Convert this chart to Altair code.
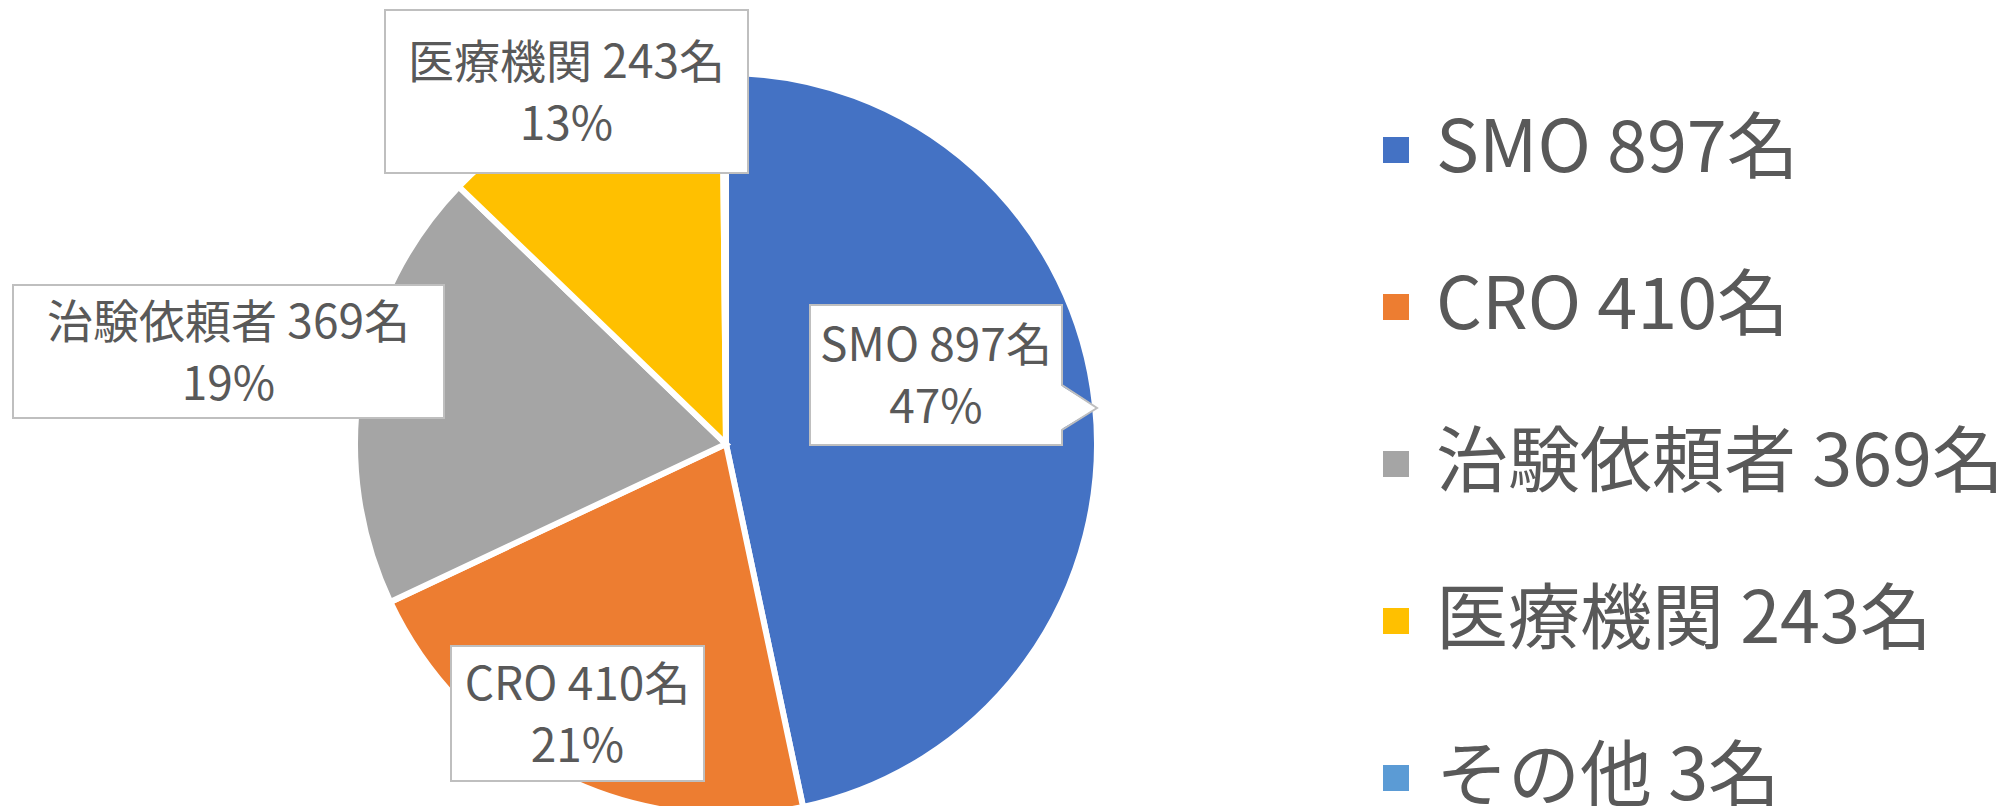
import altair as alt
import pandas as pd

# ---- data ----
categories = ["SMO", "CRO", "治験依頼者", "医療機関", "その他"]
counts = [897, 410, 369, 243, 3]
colors = ["#4472C4", "#ED7D31", "#A5A5A5", "#FFC000", "#5B9BD5"]

total = sum(counts)
legend_labels = [f"{c} {n}名" for c, n in zip(categories, counts)]
pct_labels = [f"{round(n / total * 100)}%" for n in counts]

pie_df = pd.DataFrame({
    "label": legend_labels,
    "count": counts,
    "ord": list(range(len(counts))),
})

# ---- layout (pixel positions of the annotation boxes) ----
CX, CY, R = 718, 436, 371
LINE_H = 62
boxes = {  # category index: (x0, x1, y0, y1)
    0: (802, 1054, 297, 437),
    1: (443, 696, 638, 773),
    2: (5, 436, 277, 410),
    3: (377, 740, 2, 165),
}
box_rows = []
for i, (x0, x1, y0, y1) in boxes.items():
    box_rows.append({
        "x0": x0, "x1": x1, "y0": y0, "y1": y1,
        "tx": (x0 + x1) / 2, "ty": (y0 + y1) / 2 - 28,
        "text": [legend_labels[i], pct_labels[i]],
    })
box_df = pd.DataFrame(box_rows)

# callout pointer of the SMO label
ptr_area = pd.DataFrame({"x": [1052, 1089], "y": [377, 400], "y2": [422, 400]})
ptr_line = pd.DataFrame({"x": [1054, 1089, 1054], "y": [377, 400, 422], "o": [0, 1, 2]})

FONT = "Noto Sans CJK JP"
TXT = "#595959"

pie = alt.Chart(pie_df).mark_arc(radius=R, stroke="white", strokeWidth=6).encode(
    theta=alt.Theta("count:Q", stack=True),
    order=alt.Order("ord:Q"),
    x=alt.value(CX),
    y=alt.value(CY),
    color=alt.Color(
        "label:N",
        sort=legend_labels,
        scale=alt.Scale(domain=legend_labels, range=colors),
        legend=alt.Legend(
            title=None,
            orient="none",
            legendX=1352,
            legendY=106,
            symbolType="square",
            symbolSize=676,
            symbolStrokeWidth=0,
            labelFont=FONT,
            labelFontSize=72,
            labelColor=TXT,
            labelOffset=4,
            rowPadding=85,
            padding=0,
            labelLimit=1000,
        ),
    ),
)

rects = alt.Chart(box_df).mark_rect(fill="white", stroke="#BFBFBF", strokeWidth=2).encode(
    x=alt.X("x0:Q", scale=None),
    x2="x1",
    y=alt.Y("y0:Q", scale=None),
    y2="y1",
)

parea = alt.Chart(ptr_area).mark_area(fill="white", stroke=None).encode(
    x=alt.X("x:Q", scale=None),
    y=alt.Y("y:Q", scale=None),
    y2="y2",
)

pline = alt.Chart(ptr_line).mark_line(color="#BFBFBF", strokeWidth=2).encode(
    x=alt.X("x:Q", scale=None),
    y=alt.Y("y:Q", scale=None),
    order="o:Q",
)

texts = alt.Chart(box_df).mark_text(
    font=FONT, fontSize=46, color=TXT, align="center", baseline="middle", lineHeight=LINE_H
).encode(
    x=alt.X("tx:Q", scale=None),
    y=alt.Y("ty:Q", scale=None),
    text="text",
)

chart = alt.layer(pie, rects, parea, pline, texts).properties(
    width=1995,
    height=798,
    autosize=alt.AutoSizeParams(type="none"),
    padding=0,
).configure_view(stroke=None)

chart.save("out.html", embed_options={"renderer": "svg", "actions": False})
